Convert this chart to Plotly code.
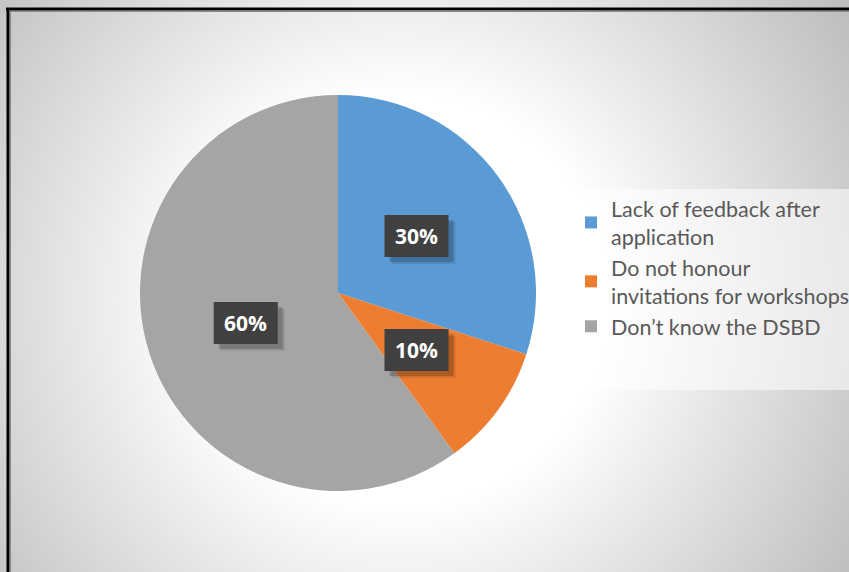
import numpy as np
import plotly.graph_objects as go

# Survey responses
categories = ["Lack of feedback after<br>application",
              "Do not honour<br>invitations for workshops",
              "Don\u2019t know the DSBD"]
shares = [30, 10, 60]
colors = ["#5B9BD5", "#ED7D31", "#A5A5A5"]

W, H = 849, 572
# pie geometry in pixels
cx, cy, r = 338, 293, 198

fig = go.Figure()

# radial grey-to-white backdrop
gx = np.linspace(0, W, 170)
gy = np.linspace(0, H, 115)
X, Y = np.meshgrid(gx, gy)
D = np.hypot(X - 400, Y - 300)
T = np.clip((D - 205) / 355, 0, 1)
fig.add_trace(go.Heatmap(x=gx, y=gy, z=T, zmin=0, zmax=1,
                         colorscale=[[0, "#ffffff"], [1, "#b8b8b8"]],
                         showscale=False, hoverinfo="skip", zsmooth="best",
                         xaxis="x", yaxis="y", showlegend=False))

dom_x = [(cx - r) / W, (cx + r) / W]
dom_y = [(H - cy - r) / H, (H - cy + r) / H]
fig.add_trace(go.Pie(labels=categories, values=shares, sort=False,
                     direction="clockwise", rotation=0,
                     marker=dict(colors=colors, line=dict(width=0)),
                     textinfo="none", hoverinfo="label+percent",
                     domain=dict(x=dom_x, y=dom_y)))

# value labels in dark boxes at each slice's mid-angle
total = sum(shares)
cum = 0
for v in shares:
    mid = (cum + v / 2) / total * 2 * np.pi
    cum += v
    px = cx + 0.49 * r * np.sin(mid)
    py = cy - 0.49 * r * np.cos(mid)
    ax, ay = px / W, 1 - py / H
    # soft drop shadow, then the box itself
    for dx, dy, fill in [(7, -7, "rgba(0,0,0,0.10)"),
                         (5, -5, "rgba(0,0,0,0.18)"),
                         (0, 0, "#404040")]:
        fig.add_shape(type="rect", xref="paper", yref="paper", layer="above",
                      xsizemode="pixel", ysizemode="pixel",
                      xanchor=ax, yanchor=ay,
                      x0=-32 + dx, x1=32 + dx, y0=-21 + dy, y1=21 + dy,
                      fillcolor=fill, line=dict(width=0))
    fig.add_annotation(text=f"<b>{round(v / total * 100)}%</b>",
                       x=ax, y=ay, xref="paper", yref="paper",
                       xanchor="center", yanchor="middle", showarrow=False,
                       font=dict(family="Open Sans", size=21, color="#ffffff"))

# legend panel
fig.add_shape(type="rect", xref="paper", yref="paper", layer="above",
              x0=582 / W, x1=1, y0=1 - 390 / H, y1=1 - 189 / H,
              fillcolor="rgba(255,255,255,0.55)", line=dict(width=0))

# frame (top and left edges)
fig.add_shape(type="line", xref="paper", yref="paper", layer="above",
              x0=10 / W, x1=1, y0=1 - 11.5 / H, y1=1 - 11.5 / H,
              line=dict(color="#8a8a8a", width=1))
fig.add_shape(type="line", xref="paper", yref="paper", layer="above",
              x0=10.5 / W, x1=10.5 / W, y0=0, y1=1 - 11 / H,
              line=dict(color="#8a8a8a", width=1))
fig.add_shape(type="line", xref="paper", yref="paper", layer="above",
              x0=6 / W, x1=1, y0=1 - 9 / H, y1=1 - 9 / H,
              line=dict(color="#000000", width=3))
fig.add_shape(type="line", xref="paper", yref="paper", layer="above",
              x0=8 / W, x1=8 / W, y0=0, y1=1 - 8 / H,
              line=dict(color="#000000", width=3))

fig.update_layout(
    width=W, height=H,
    margin=dict(l=0, r=0, t=0, b=0, autoexpand=False),
    paper_bgcolor="#ffffff", plot_bgcolor="#ffffff",
    xaxis=dict(range=[0, W], visible=False, domain=[0, 1], fixedrange=True),
    yaxis=dict(range=[H, 0], visible=False, domain=[0, 1], fixedrange=True),
    showlegend=True,
    legend=dict(x=571 / W, y=1 - 188 / H, xanchor="left", yanchor="top",
                bgcolor="rgba(0,0,0,0)", borderwidth=0,
                font=dict(family="Lato", size=21.5, color="#595959")),
)

fig.write_html("out.html")
